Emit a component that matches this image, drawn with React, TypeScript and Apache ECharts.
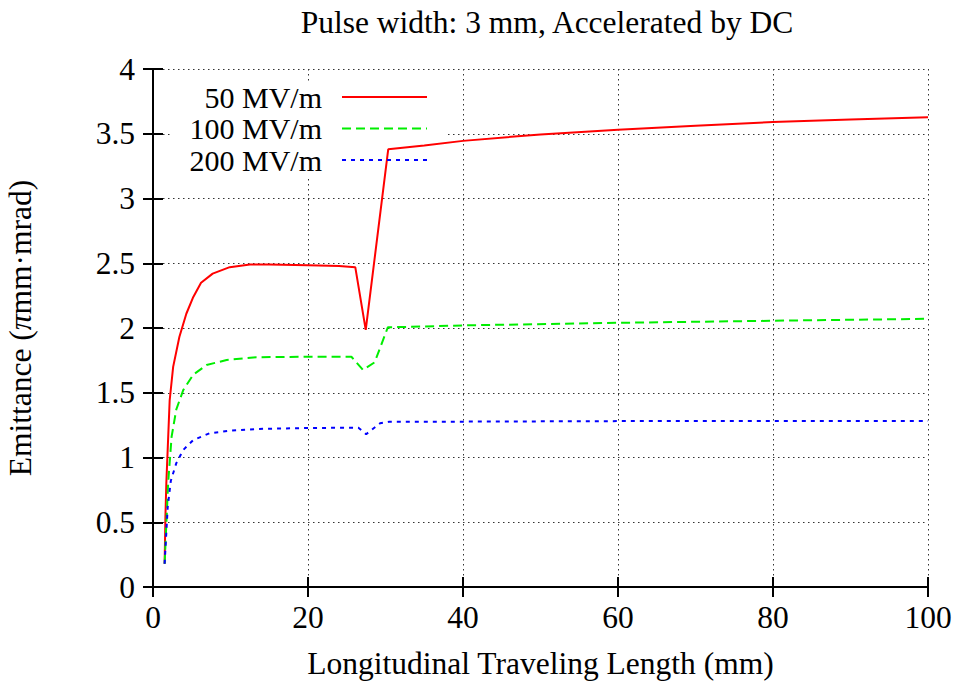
import React, { useEffect, useRef } from "react";
import * as echarts from "echarts";

const titleText = "Pulse width: 3 mm, Accelerated by DC";
const xName = "Longitudinal Traveling Length (mm)";
const seriesNames = ["50 MV/m", "100 MV/m", "200 MV/m"];

const x50 = [1.5, 1.6, 1.72, 2.15, 2.6, 3.4, 4.3, 5.2, 6.2, 7.7, 9.9, 12.5, 15, 20, 24, 26.1, 27.45, 30.35, 35, 40, 50, 60, 70, 80, 90, 100];
const y50 = [0.18, 0.54, 0.8, 1.44, 1.7, 1.93, 2.11, 2.24, 2.35, 2.42, 2.47, 2.49, 2.49, 2.485, 2.478, 2.47, 1.985, 3.38, 3.41, 3.445, 3.495, 3.53, 3.562, 3.59, 3.61, 3.627];

const x100 = [1.5, 1.95, 2.4, 3.0, 3.9, 5.2, 6.9, 9.5, 13.3, 20, 25.6, 27.1, 28.6, 30.3, 40, 60, 80, 100];
const y100 = [0.18, 0.8, 1.16, 1.37, 1.52, 1.64, 1.714, 1.753, 1.774, 1.778, 1.778, 1.676, 1.735, 2.005, 2.02, 2.04, 2.056, 2.071];

const x200 = [1.5, 1.9, 2.3, 3.0, 3.9, 5.2, 7.3, 9.9, 13.3, 20, 26.5, 27.5, 29.3, 30.5, 40, 60, 80, 100];
const y200 = [0.18, 0.62, 0.82, 0.955, 1.058, 1.135, 1.187, 1.207, 1.22, 1.228, 1.23, 1.18, 1.264, 1.277, 1.277, 1.281, 1.281, 1.281];

const FONT = "Liberation Serif";
const FS = 31.5;
const LFS = 30;

function pairs(xs: number[], ys: number[]) {
  return xs.map((x, i) => [x, ys[i]]);
}

export default function App() {
  const ref = useRef<HTMLDivElement>(null);
  useEffect(() => {
    if (!ref.current) return;
    const chart = echarts.init(ref.current, undefined, { renderer: "svg" });
    const axisLine = { show: true, lineStyle: { color: "#000", width: 2 } };
    const tick = { show: true, inside: true, length: 10, lineStyle: { color: "#000", width: 2 } };
    const split = { show: true, lineStyle: { color: "#333", width: 1, type: [1.5, 3.5] as any } };
    const lblStyle = { fontFamily: FONT, fontSize: FS, color: "#000" };
    const colors = ["#ff0000", "#00ee00", "#0000ff"];
    const dashes: any[] = ["solid", [9, 5], [4, 5]];
    const datas = [pairs(x50, y50), pairs(x100, y100), pairs(x200, y200)];
    const rowTops = [82, 113.5, 145];
    chart.setOption({
      animation: false,
      backgroundColor: "#fff",
      title: {
        text: titleText,
        left: 542,
        top: 1,
        textAlign: "center",
        textStyle: { fontFamily: FONT, fontSize: FS, fontWeight: "normal", color: "#000" },
      },
      grid: { left: 153, top: 69, width: 775, height: 518, containLabel: false, outerBoundsMode: "none" },
      legend: seriesNames.map((n, i) => ({
        data: [n],
        right: 534,
        top: rowTops[i],
        align: "right",
        orient: "vertical",
        padding: 0,
        itemWidth: 85,
        itemHeight: 14,
        selectedMode: false,
        itemStyle: { opacity: 0 },
        textStyle: { fontFamily: FONT, fontSize: LFS, color: "#000", lineHeight: 30, padding: [0, 15, 0, 0] },
      })),
      graphic: {
        elements: [
          { type: "rect", z: 1, shape: { x: 172, y: 81, width: 276, height: 97 }, style: { fill: "#fff" } },
        ],
      },
      xAxis: [
        {
          type: "value",
          min: 0,
          max: 100,
          interval: 20,
          position: "bottom",
          axisLine,
          axisTick: tick,
          splitLine: split,
          axisLabel: { ...lblStyle, margin: 14 },
          name: xName,
          nameLocation: "middle",
          nameGap: 60,
          nameTextStyle: { fontFamily: FONT, fontSize: FS, color: "#000" },
        },
        {
          type: "value",
          min: 0,
          max: 100,
          interval: 20,
          position: "top",
          axisLine,
          axisTick: tick,
          splitLine: { show: false },
          axisLabel: { show: false },
        },
      ],
      yAxis: [
        {
          type: "value",
          min: 0,
          max: 4,
          interval: 0.5,
          position: "left",
          axisLine,
          axisTick: tick,
          splitLine: split,
          axisLabel: { ...lblStyle, margin: 18 },
          name: "{n|Emittance (}{p|π}{n|mm·mrad)}",
          nameLocation: "middle",
          nameGap: 117,
          nameTextStyle: {
            fontFamily: FONT,
            fontSize: FS,
            color: "#000",
            rich: {
              n: { fontFamily: FONT, fontSize: FS, color: "#000" },
              p: { fontFamily: FONT, fontSize: FS, color: "#000", fontStyle: "italic" },
            },
          },
        },
        {
          type: "value",
          min: 0,
          max: 4,
          interval: 0.5,
          position: "right",
          axisLine,
          axisTick: tick,
          splitLine: { show: false },
          axisLabel: { show: false },
        },
      ],
      series: seriesNames.map((n, i) => ({
        name: n,
        type: "line",
        data: datas[i],
        showSymbol: false,
        symbol: "none",
        z: 3,
        lineStyle: { color: colors[i], width: 2, type: dashes[i] },
        itemStyle: { color: colors[i] },
      })),
    });
    return () => chart.dispose();
  }, []);
  return (
    <div
      ref={ref}
      style={{ position: "absolute", left: 0, top: 0, width: 962, height: 688 }}
    />
  );
}
